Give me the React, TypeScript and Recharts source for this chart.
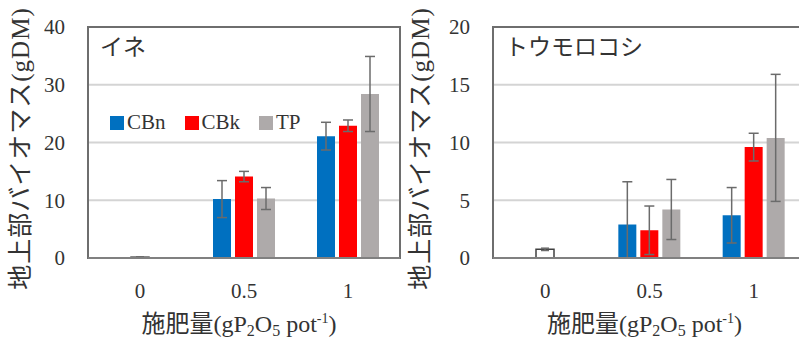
import {
  ComposedChart,
  Bar,
  XAxis,
  YAxis,
  CartesianGrid,
  ErrorBar,
  ReferenceArea,
  Legend,
} from "recharts";

const CATEGORIES = ["0", "0.5", "1"];

// イネ (rice)
const RICE_CBN = [null, 10.2, 21.1];
const RICE_CBN_ERR = [null, 3.2, 2.4];
const RICE_CBK = [null, 14.1, 22.9];
const RICE_CBK_ERR = [null, 0.9, 1.0];
const RICE_TP = [null, 10.3, 28.4];
const RICE_TP_ERR = [null, 1.9, 6.5];
const RICE_CTRL = [0.15, null, null];
const RICE_CTRL_ERR = [0.05, null, null];

// トウモロコシ (maize)
const CORN_CBN = [null, 2.9, 3.7];
const CORN_CBN_ERR: (number | number[] | null)[] = [null, [2.9, 3.7], 2.4];
const CORN_CBK = [null, 2.4, 9.6];
const CORN_CBK_ERR = [null, 2.1, 1.2];
const CORN_TP = [null, 4.2, 10.4];
const CORN_TP_ERR = [null, 2.6, 5.5];
const CORN_CTRL = [0.75, null, null];
const CORN_CTRL_ERR = [0.1, null, null];

const SERIES = [
  { key: "cbn", name: "CBn", color: "#0070C0" },
  { key: "cbk", name: "CBk", color: "#FF0000" },
  { key: "tp", name: "TP", color: "#AEAAAA" },
];

const RICE_TICKS = [0, 10, 20, 30, 40];
const CORN_TICKS = [0, 5, 10, 15, 20];

const FONT = "'Liberation Serif', 'Noto Sans CJK JP', serif";
const ERR_COLOR = "#6b6b6b";

function buildRows(cbn: any[], cbnErr: any[], cbk: any[], cbkErr: any[], tp: any[], tpErr: any[], ctrl: any[], ctrlErr: any[]) {
  return CATEGORIES.map((c, i) => ({
    cat: c,
    cbn: cbn[i],
    cbnErr: cbnErr[i],
    cbk: cbk[i],
    cbkErr: cbkErr[i],
    tp: tp[i],
    tpErr: tpErr[i],
    ctrl: ctrl[i],
    ctrlErr: ctrlErr[i],
  }));
}

const riceRows = buildRows(RICE_CBN, RICE_CBN_ERR, RICE_CBK, RICE_CBK_ERR, RICE_TP, RICE_TP_ERR, RICE_CTRL, RICE_CTRL_ERR);
const cornRows = buildRows(CORN_CBN, CORN_CBN_ERR, CORN_CBK, CORN_CBK_ERR, CORN_TP, CORN_TP_ERR, CORN_CTRL, CORN_CTRL_ERR);

const YTitle = (props: any) => {
  const vb = props.viewBox;
  const cx = vb.x + 20;
  const cy = vb.y + vb.height / 2 + 6;
  return (
    <text
      x={cx}
      y={cy}
      transform={`rotate(-90 ${cx} ${cy})`}
      textAnchor="middle"
      dominantBaseline="central"
      fontSize={25}
      letterSpacing={1}
      fontFamily={FONT}
      fill="#333"
    >
      地上部バイオマス(gDM)
    </text>
  );
};

const XTitle = (props: any) => {
  const vb = props.viewBox;
  return (
    <text
      x={vb.x + vb.width / 2 - 5}
      y={vb.y + vb.height - 10}
      textAnchor="middle"
      fontSize={24}
      fontFamily={FONT}
      fill="#333"
    >
      施肥量(gP
      <tspan dy={4} fontSize={16}>2</tspan>
      <tspan dy={-4}>O</tspan>
      <tspan dy={4} fontSize={16}>5</tspan>
      <tspan dy={-4}> pot</tspan>
      <tspan dy={-9} fontSize={14}>-1</tspan>
      <tspan dy={9}>)</tspan>
    </text>
  );
};

const LegendBox = () => (
  <div style={{ display: "flex", alignItems: "center", fontFamily: FONT, fontSize: 21, color: "#333" }}>
    {SERIES.map((s) => (
      <div key={s.key} style={{ display: "flex", alignItems: "center", marginRight: 19 }}>
        <span style={{ width: 14, height: 14, background: s.color, marginRight: 3, display: "inline-block" }} />
        <span>{s.name}</span>
      </div>
    ))}
  </div>
);

const TICK_STYLE = { fontSize: 21, fill: "#333", fontFamily: FONT };

function Panel({
  rows,
  ticks,
  title,
  width,
  yWidth,
  showLegend,
}: {
  rows: any[];
  ticks: number[];
  title: string;
  width: number;
  yWidth: number;
  showLegend: boolean;
}) {
  const max = ticks[ticks.length - 1];
  return (
    <ComposedChart
      width={width}
      height={342}
      data={rows}
      margin={{ top: 27, right: 1, bottom: 0, left: 0 }}
      barGap={4}
    >
      <CartesianGrid vertical={false} stroke="#d4d4d4" strokeWidth={2} />
      <XAxis
        dataKey="cat"
        height={84}
        tickLine={false}
        tickSize={0}
        tickMargin={25}
        axisLine={{ stroke: "#808080", strokeWidth: 2 }}
        tick={TICK_STYLE}
        label={<XTitle />}
      />
      <XAxis dataKey="cat" xAxisId="ctrl" hide />
      <YAxis
        domain={[0, max]}
        ticks={ticks}
        width={yWidth}
        tickLine={false}
        tickSize={0}
        tickMargin={23}
        axisLine={false}
        tick={TICK_STYLE}
        label={<YTitle />}
      />
      <ReferenceArea
        y1={0}
        y2={max}
        fill="none"
        stroke="#6e6e6e"
        strokeWidth={2}
        ifOverflow="visible"
        label={{ value: title, position: "insideTopLeft", offset: 12, fontSize: 23, fill: "#333", fontFamily: FONT }}
      />
      {SERIES.map((s) => (
        <Bar key={s.key} dataKey={s.key} name={s.name} fill={s.color} barSize={18} isAnimationActive={false}>
          <ErrorBar dataKey={`${s.key}Err`} width={5} stroke={ERR_COLOR} strokeWidth={1.5} />
        </Bar>
      ))}
      <Bar
        dataKey="ctrl"
        xAxisId="ctrl"
        fill="#ffffff"
        stroke="#404040"
        strokeWidth={1.5}
        barSize={18}
        isAnimationActive={false}
        legendType="none"
      >
        <ErrorBar dataKey="ctrlErr" width={4} stroke={ERR_COLOR} strokeWidth={1.5} />
      </Bar>
      {showLegend && (
        <Legend
          layout="horizontal"
          verticalAlign="middle"
          align="center"
          content={<LegendBox />}
          wrapperStyle={{ top: 110, left: 110, width: "auto" }}
        />
      )}
    </ComposedChart>
  );
}

export default function App() {
  return (
    <div
      style={{
        position: "absolute",
        left: 0,
        top: 0,
        width: 799,
        height: 342,
        overflow: "hidden",
        background: "#fff",
        fontFamily: FONT,
      }}
    >
      <div style={{ position: "absolute", left: 0, top: 0 }}>
        <Panel rows={riceRows} ticks={RICE_TICKS} title="イネ" width={401} yWidth={88} showLegend />
      </div>
      <div style={{ position: "absolute", left: 400, top: 0 }}>
        <Panel rows={cornRows} ticks={CORN_TICKS} title="トウモロコシ" width={407} yWidth={93} showLegend={false} />
      </div>
    </div>
  );
}
